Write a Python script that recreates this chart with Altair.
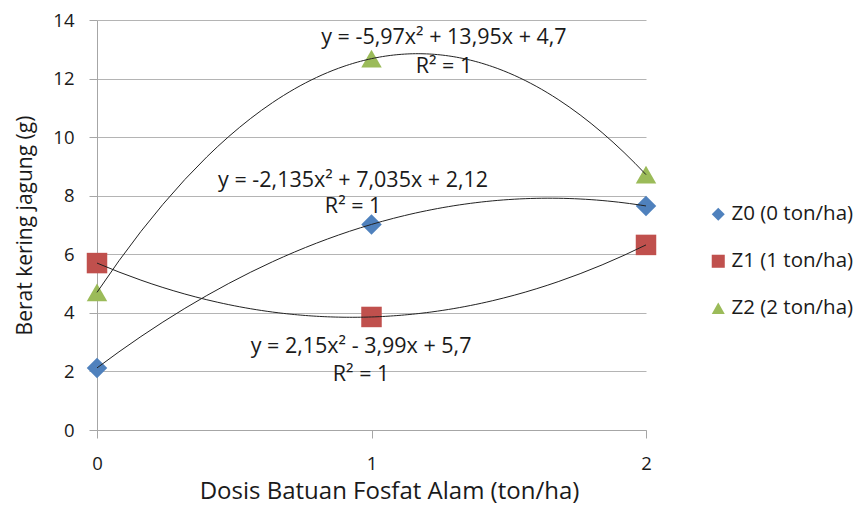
import altair as alt
import pandas as pd

doses = [0, 1, 2]
series_names = ["Z0 (0 ton/ha)", "Z1 (1 ton/ha)", "Z2 (2 ton/ha)"]
z0 = [2.12, 7.02, 7.65]
z1 = [5.70, 3.86, 6.32]
z2 = [4.70, 12.68, 8.72]
colors = ["#4F81BD", "#C0504D", "#9BBB59"]
shapes = ["diamond", "square", "triangle-up"]
x_ticks = [0, 1, 2]
y_ticks = [0, 2, 4, 6, 8, 10, 12, 14]

eq_text = [
    "y = -5,97x² + 13,95x + 4,7", "R² = 1",
    "y = -2,135x² + 7,035x + 2,12", "R² = 1",
    "y = 2,15x² - 3,99x + 5,7", "R² = 1",
]
eq_x = [1.264, 1.264, 0.933, 0.933, 0.962, 0.962]
eq_y = [13.39, 12.40, 8.51, 7.60, 2.83, 1.87]

rows = []
for name, vals in zip(series_names, [z0, z1, z2]):
    for d, v in zip(doses, vals):
        rows.append({"x": d, "y": v, "series": name})
df = pd.DataFrame(rows)
ann = pd.DataFrame({"x": eq_x, "y": eq_y, "t": eq_text})

FONT = "Open Sans"
TXT = "#1a1a1a"
xs = alt.Scale(domain=[0, 2], nice=False, zero=False)
ys = alt.Scale(domain=[0, 14], nice=False)

x_axis = alt.Axis(values=x_ticks, grid=False, tickSize=8,
                  labelExpr="format(datum.value, '.0f')",
                  labelPadding=16, labelOverlap=False, labelFlush=False,
                  titleFontSize=24, titleX=292, titleY=61,
                  titleBaseline="middle")
y_axis = alt.Axis(values=y_ticks, grid=True, tickSize=8, labelPadding=15,
                  titlePadding=17, titleFontSize=21,
                  labelOverlap=False, labelFlush=False)
X_TITLE = "Dosis Batuan Fosfat Alam (ton/ha)"
Y_TITLE = "Berat kering jagung (g)"

base = alt.Chart(df)

points = base.mark_point(filled=True, opacity=1, size=420).encode(
    x=alt.X("x:Q", scale=xs, title=X_TITLE, axis=x_axis),
    y=alt.Y("y:Q", scale=ys, title=Y_TITLE, axis=y_axis),
    color=alt.Color("series:N", scale=alt.Scale(domain=series_names, range=colors),
                    legend=alt.Legend(title=None, orient="none", legendX=611,
                                      legendY=184, symbolSize=170,
                                      labelFontSize=20.5, labelFont=FONT,
                                      labelColor=TXT, rowPadding=26,
                                      symbolStrokeWidth=0, labelOffset=3)),
    shape=alt.Shape("series:N", scale=alt.Scale(domain=series_names, range=shapes)),
)

lines = base.transform_regression(
    "x", "y", groupby=["series"], method="poly", order=2, extent=[0, 2]
).mark_line(color="#222", strokeWidth=1).encode(
    x=alt.X("x:Q", scale=xs, title=X_TITLE, axis=x_axis),
    y=alt.Y("y:Q", scale=ys, title=Y_TITLE, axis=y_axis),
    detail="series:N",
)

labels = alt.Chart(ann).mark_text(font=FONT, fontSize=21.5, color=TXT,
                                  align="center", baseline="middle").encode(
    x=alt.X("x:Q", scale=xs, title=X_TITLE, axis=x_axis),
    y=alt.Y("y:Q", scale=ys, title=Y_TITLE, axis=y_axis),
    text="t:N",
)

chart = alt.layer(points, lines, labels).properties(
    width=549, height=410,
    autosize=alt.AutoSizeParams(type="none"),
    padding={"left": 89, "top": 12, "right": 210, "bottom": 74},
).configure_view(stroke=None).configure_axis(
    labelFont=FONT, titleFont=FONT, labelFontSize=18.5,
    labelColor=TXT, titleColor=TXT, titleFontWeight="normal",
    domainColor="#A6A6A6", tickColor="#A6A6A6", gridColor="#B4B4B4",
)

chart.save("out.html", embed_options={"renderer": "svg", "actions": False})
